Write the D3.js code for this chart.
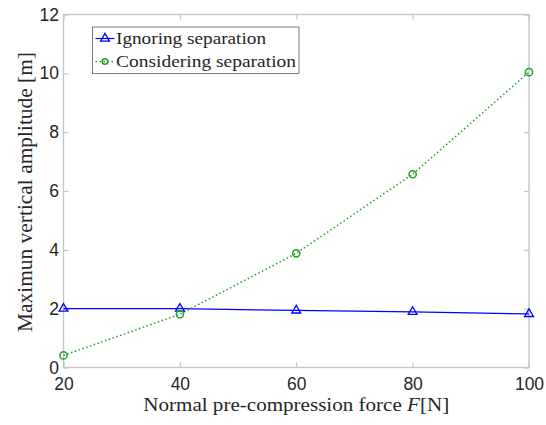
<!DOCTYPE html>
<html>
<head>
<meta charset="utf-8">
<script src="https://cdn.jsdelivr.net/npm/d3@7"></script>
<style>
  html, body { margin: 0; padding: 0; background: #fff; }
  svg { display: block; }
</style>
</head>
<body>
<svg id="chart" width="546" height="425"></svg>
<script>
// Pre-compression force values (N)
const forces = [20, 40, 60, 80, 100];
// Maximum vertical amplitude (m) for each model
const ignoringSeparation = [2.0, 2.0, 1.94, 1.89, 1.82];
const consideringSeparation = [0.41, 1.81, 3.88, 6.57, 10.04];
const xTicks = [20, 40, 60, 80, 100];
const yTicks = [0, 2, 4, 6, 8, 10, 12];
const seriesNames = ["Ignoring separation", "Considering separation"];

const svg = d3.select("#chart");
const plot = { left: 63.5, right: 529, top: 14.5, bottom: 367.5 };

const x = d3.scaleLinear().domain([20, 100]).range([plot.left, plot.right]);
const y = d3.scaleLinear().domain([0, 12]).range([plot.bottom, plot.top]);

const axisColor = "#c4c4c4";
const tickTextColor = "#262626";
const tickLen = 5;
const serif = "'Liberation Serif', 'Times New Roman', serif";

// Frame
svg.append("rect")
  .attr("x", plot.left).attr("y", plot.top)
  .attr("width", plot.right - plot.left).attr("height", plot.bottom - plot.top)
  .attr("fill", "none").attr("stroke", axisColor).attr("stroke-width", 1.3);

// Axes with inward ticks
const xAxis = svg.append("g").attr("transform", `translate(0,${plot.bottom})`)
  .call(d3.axisBottom(x).tickValues(xTicks).tickSizeInner(-tickLen).tickSizeOuter(0).tickPadding(10));
const xAxisTop = svg.append("g").attr("transform", `translate(0,${plot.top})`)
  .call(d3.axisTop(x).tickValues(xTicks).tickSizeInner(-tickLen).tickSizeOuter(0).tickFormat(""));
const yAxis = svg.append("g").attr("transform", `translate(${plot.left},0)`)
  .call(d3.axisLeft(y).tickValues(yTicks).tickSizeInner(-tickLen).tickSizeOuter(0).tickPadding(4.5));
const yAxisRight = svg.append("g").attr("transform", `translate(${plot.right},0)`)
  .call(d3.axisRight(y).tickValues(yTicks).tickSizeInner(-tickLen).tickSizeOuter(0).tickFormat(""));

[xAxis, xAxisTop, yAxis, yAxisRight].forEach(g => {
  g.select(".domain").remove();
  g.selectAll(".tick line").attr("stroke", axisColor).attr("stroke-width", 1.2);
  g.selectAll(".tick text")
    .attr("fill", tickTextColor)
    .style("font-family", "'Liberation Sans', Arial, sans-serif")
    .style("font-size", "17.5px");
});

// Axis titles
svg.append("text")
  .attr("x", (plot.left + plot.right) / 2).attr("y", 410.5)
  .attr("text-anchor", "middle")
  .attr("fill", "#262626")
  .attr("textLength", 306).attr("lengthAdjust", "spacingAndGlyphs")
  .style("font-family", serif)
  .style("font-size", "19px")
  .html("Normal pre-compression force <tspan font-style='italic'>F</tspan>[N]");

svg.append("text")
  .attr("transform", `translate(32,${(plot.top + plot.bottom) / 2 + 1}) rotate(-90)`)
  .attr("text-anchor", "middle")
  .attr("fill", "#262626")
  .attr("textLength", 280).attr("lengthAdjust", "spacingAndGlyphs")
  .style("font-family", serif)
  .style("font-size", "20px")
  .text("Maximun vertical amplitude [m]");

const blue = "#0000ff";
const green = "#21a021";

const line = d3.line().x((d, i) => x(forces[i])).y(d => y(d));

// Ignoring separation: solid blue with triangles
svg.append("path").datum(ignoringSeparation)
  .attr("d", line).attr("fill", "none").attr("stroke", blue).attr("stroke-width", 1.2);

// Considering separation: dotted green with circles
svg.append("path").datum(consideringSeparation)
  .attr("d", line).attr("fill", "none").attr("stroke", green)
  .attr("stroke-width", 1.5).attr("stroke-dasharray", "1.5,2.5");

const triangle = d3.symbol().type(d3.symbolTriangle).size(34);

svg.selectAll(".tri").data(ignoringSeparation).enter().append("path")
  .attr("transform", (d, i) => `translate(${x(forces[i])},${y(d)})`)
  .attr("d", triangle).attr("fill", "none").attr("stroke", blue).attr("stroke-width", 1.3);

svg.selectAll(".circ").data(consideringSeparation).enter().append("circle")
  .attr("cx", (d, i) => x(forces[i])).attr("cy", d => y(d)).attr("r", 3.6)
  .attr("fill", "none").attr("stroke", green).attr("stroke-width", 1.5);

// Legend
const legend = svg.append("g");
legend.append("rect")
  .attr("x", 92.5).attr("y", 27).attr("width", 206.5).attr("height", 46.5)
  .attr("fill", "#fff").attr("stroke", "#262626").attr("stroke-width", 0.6);

const legendRows = [
  { name: seriesNames[0], color: blue, dash: null, marker: "tri", width: 150 },
  { name: seriesNames[1], color: green, dash: "1.5,2.5", marker: "circ", width: 180 }
];
legendRows.forEach((r, i) => {
  const cy = 38.5 + i * 23;
  legend.append("line")
    .attr("x1", 95.5).attr("x2", 114.5).attr("y1", cy).attr("y2", cy)
    .attr("stroke", r.color).attr("stroke-width", r.dash ? 1.5 : 1.2)
    .attr("stroke-dasharray", r.dash);
  if (r.marker === "tri") {
    legend.append("path").attr("transform", `translate(105,${cy})`)
      .attr("d", triangle).attr("fill", "none").attr("stroke", r.color).attr("stroke-width", 1.3);
  } else {
    legend.append("circle").attr("cx", 105).attr("cy", cy).attr("r", 2.8)
      .attr("fill", "none").attr("stroke", r.color).attr("stroke-width", 1.5);
  }
  legend.append("text")
    .attr("x", 116).attr("y", cy + 5)
    .attr("fill", "#262626")
    .attr("textLength", r.width).attr("lengthAdjust", "spacingAndGlyphs")
    .style("font-family", serif)
    .style("font-size", "17px")
    .text(r.name);
});
</script>
</body>
</html>
